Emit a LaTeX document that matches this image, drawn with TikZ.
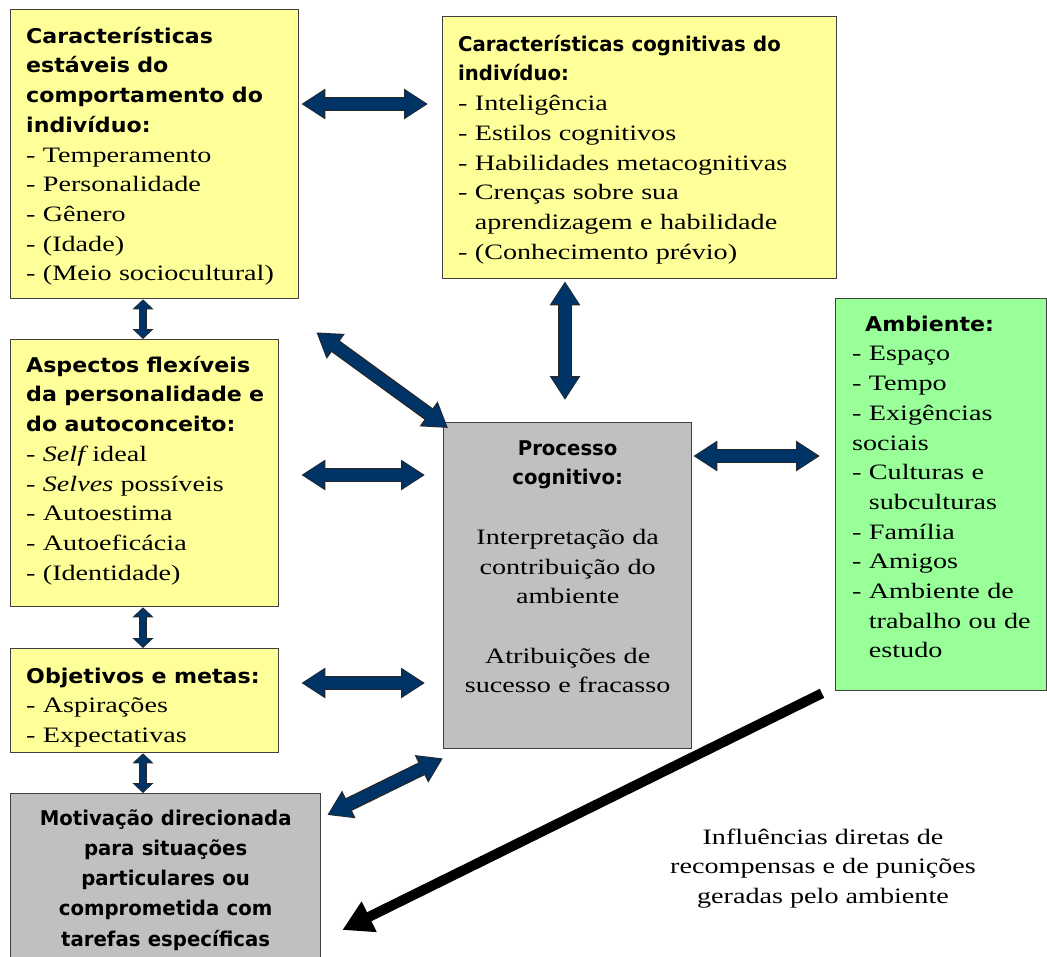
\documentclass[tikz,border=0pt]{standalone}
\usepackage{fontspec}
\setmainfont[FakeStretch=1.28]{Liberation Serif}
\newfontfamily\headwide[FakeStretch=1.09]{DejaVu Sans}
\newfontfamily\headnarrow[FakeStretch=0.97]{DejaVu Sans}
\usetikzlibrary{arrows.meta,calc}

\definecolor{boxyellow}{HTML}{FFFF99}
\definecolor{boxgreen}{HTML}{99FF99}
\definecolor{boxgray}{HTML}{C0C0C0}
\definecolor{arrowblue}{HTML}{003366}

\newcommand{\hw}{\headwide\bfseries\fontsize{20.3}{29.7}\selectfont}
\newcommand{\hn}{\headnarrow\bfseries\fontsize{20.3}{29.7}\selectfont}
\newcommand{\bd}{\rmfamily\mdseries\fontsize{22}{29.7}\selectfont}
\newcommand{\fst}{\rule{0pt}{20pt}}

\tikzset{
  box/.style={draw=black!75, line width=1.3pt, inner sep=0pt, anchor=north west},
  txt/.style={anchor=north west, inner sep=0pt, align=left, font=\bd},
  bigarrow/.style={draw=arrowblue, line width=11.5pt, shorten <=1.6pt, shorten >=1.6pt,
    {Triangle[length=21pt,width=25.5pt]}-{Triangle[length=21pt,width=25.5pt]},
    preaction={draw=black!85, line width=14pt, shorten <=0pt, shorten >=0pt,
      {Triangle[length=24pt,width=29pt]}-{Triangle[length=24pt,width=29pt]}}},
  smallarrow/.style={draw=arrowblue, line width=6pt, shorten <=1.2pt, shorten >=1.2pt,
    {Triangle[length=8pt,width=17.5pt]}-{Triangle[length=8pt,width=17.5pt]},
    preaction={draw=black!85, line width=8pt, shorten <=0pt, shorten >=0pt,
      {Triangle[length=10pt,width=20.5pt]}-{Triangle[length=10pt,width=20.5pt]}}},
  influence/.style={draw=black, line width=10pt, -{Triangle[length=30pt,width=32pt]}},
}

\begin{document}
\begin{tikzpicture}[x=1pt,y=-1pt]
\useasboundingbox (0,0) rectangle (1047,956);

\node[box, fill=boxyellow, minimum width=288pt, minimum height=289pt] (estaveis) at (10,9) {};
\node[box, fill=boxyellow, minimum width=394pt, minimum height=262pt] (cognitivas) at (442,16) {};
\node[box, fill=boxyellow, minimum width=268pt, minimum height=267pt] (flexiveis) at (10,339) {};
\node[box, fill=boxyellow, minimum width=268pt, minimum height=104pt] (objetivos) at (10,648) {};
\node[box, fill=boxgray, minimum width=310pt, minimum height=175pt] (motivacao) at (10,793) {};
\node[box, fill=boxgray, minimum width=248pt, minimum height=326pt] (processo) at (443,422) {};
\node[box, fill=boxgreen, minimum width=211pt, minimum height=392pt] (ambiente) at (835,298) {};

\node[txt, text width=270pt] (estaveis-txt) at ([shift={(16,14)}]estaveis.north west)
  {\fst{\hw Características\\ estáveis do\\ comportamento do\\ indivíduo:}\\
   - Temperamento\\ - Personalidade\\ - Gênero\\ - (Idade)\\ - (Meio sociocultural)};
\node[txt, text width=380pt] (cognitivas-txt) at ([shift={(16,15)}]cognitivas.north west)
  {\fst{\hn Características cognitivas do\\ indivíduo:}\\
   - Inteligência\\ - Estilos cognitivos\\ - Habilidades metacognitivas\\
   - Crenças sobre sua\\ \phantom{-}\ aprendizagem e habilidade\\ - (Conhecimento prévio)};
\node[txt, text width=262pt] (flexiveis-txt) at ([shift={(16,13)}]flexiveis.north west)
  {\fst{\hw Aspectos flexíveis\\ da personalidade e\\ do autoconceito:}\\
   - \textit{Self}\hspace{4pt}ideal\\ - \textit{Selves} possíveis\\ - Autoestima\\ - Autoeficácia\\ - (Identidade)};
\node[txt, text width=262pt] (objetivos-txt) at ([shift={(16,15)}]objetivos.north west)
  {\fst{\hw Objetivos e metas:}\\ - Aspirações\\ - Expectativas};
\node[txt, anchor=north, align=center, text width=305pt] (motivacao-txt) at ([shift={(0,12)}]motivacao.north)
  {\fst{\hn\fontsize{20.3}{30.2}\selectfont Motivação direcionada\\ para situações\\ particulares ou\\ comprometida com\\ tarefas específicas\par}};
\node[txt, anchor=north, align=center, text width=244pt] (processo-txt) at ([shift={(0,13)}]processo.north)
  {\fst{\hn Processo\\ cognitivo:}\\[29.7pt]
   Interpretação da\\ contribuição do\\ ambiente\\[29.7pt] Atribuições de\\ sucesso e fracasso};
\node[txt, text width=200pt] (ambiente-txt) at ([shift={(17,13)}]ambiente.north west)
  {\fst\hspace*{13pt}{\hw Ambiente:}\\ - Espaço\\ - Tempo\\ - Exigências\\ sociais\\
   - Culturas e\\ \phantom{-}\ subculturas\\ - Família\\ - Amigos\\ - Ambiente de\\
   \phantom{-}\ trabalho ou de\\ \phantom{-}\ estudo};
\node[txt, anchor=north, align=center] (influencias) at (823,824)
  {\fst Influências diretas de\\ recompensas e de punições\\ geradas pelo ambiente};

\draw[bigarrow] ($(estaveis.east |- 0,104)+(2,0)$) -- ($(cognitivas.west |- 0,104)+(-14,0)$);
\draw[smallarrow] (143,0 |- estaveis.south) -- (143,0 |- flexiveis.north);
\draw[smallarrow] (143,0 |- flexiveis.south) -- (143,0 |- objetivos.north);
\draw[smallarrow] (143,0 |- objetivos.south) -- (143,0 |- motivacao.north);
\draw[bigarrow] ($(estaveis.south east)+(17,33)$) -- ($(processo.north west)+(5,6)$);
\draw[bigarrow] ($(flexiveis.east |- 0,475)+(22,0)$) -- ($(processo.west |- 0,475)+(-18,0)$);
\draw[bigarrow] ($(objetivos.east |- 0,683)+(22,0)$) -- ($(processo.west |- 0,683)+(-18,0)$);
\draw[bigarrow] ($(motivacao.north east)+(6,22)$) -- ($(processo.south west)+(0,9)$);
\draw[bigarrow] ($(cognitivas.south -| 565,0)+(0,2)$) -- ($(processo.north -| 565,0)+(0,-22)$);
\draw[bigarrow] ($(processo.east |- 0,456)+(1,0)$) -- ($(ambiente.west |- 0,456)+(-15,0)$);
\draw[influence] ($(ambiente.south west)+(-13,2)$) -- ($(motivacao.north east)+(21,137)$);

\end{tikzpicture}
\end{document}
